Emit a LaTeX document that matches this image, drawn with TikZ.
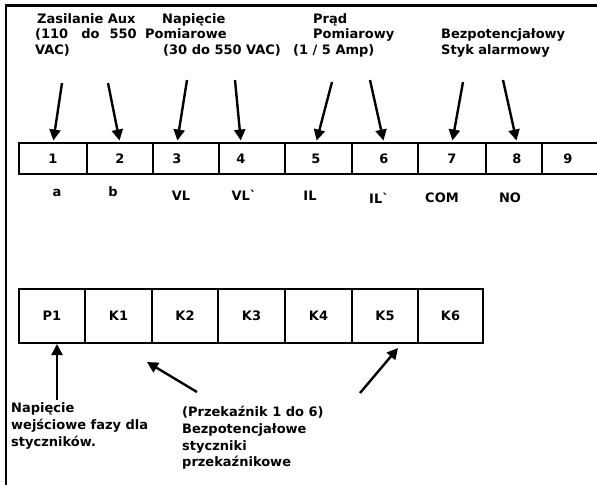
\documentclass[tikz,border=0pt]{standalone}
\usepackage{fontspec}
\setmainfont{DejaVu Sans}[Ligatures=TeXOff]
\usetikzlibrary{arrows.meta}

\begin{document}
\begin{tikzpicture}[x=1pt, y=-1pt, >={Triangle[width=11pt,length=11pt]},
    every node/.style={font=\bfseries\fontsize{13}{15.8}\selectfont},
    cell/.style={draw, line width=1.6pt, outer sep=0pt, inner sep=0pt, minimum height=31pt},
    relay/.style={cell, minimum height=54pt},
    txt/.style={anchor=north west, align=left, inner sep=0pt},
    note/.style={txt, font=\bfseries\fontsize{13}{16.7}\selectfont},
    pin/.style={->, line width=2.4pt, shorten >=2.5pt}]
  \useasboundingbox (0,0) rectangle (597,485);
  \draw[line width=2.4pt] (597,5.5) -- (6,5.5) -- (6,485);

  % headings over the terminals
  \node[txt] (aux) at (37,13.4) {Zasilanie Aux};
  \node[txt] (auxv) at (35,28.6) {(110\hspace{13pt}do\hspace{10pt}550\\VAC)};
  \node[txt] (nap) at (162,13.4) {Napięcie};
  \node[txt] (napp) at (145,28.6) {Pomiarowe};
  \node[txt] (napv) at (163,44.4) {(30 do 550 VAC)};
  \node[txt] (prad) at (313,13.4) {Prąd};
  \node[txt] (pradp) at (313,28.6) {Pomiarowy};
  \node[txt] (prada) at (293,44.4) {(1 / 5 Amp)};
  \node[txt] (styk) at (441,28.6) {Bezpotencjałowy\\Styk alarmowy};

  % terminal strip 1..9
  \foreach \i/\l/\r in {1/19/87, 2/87/153, 3/153/219, 4/219/285, 5/285/352, 6/352/418, 7/418/486, 8/486/542}
    \node[cell, minimum width=\r-\l] (c\i) at ({(\l+\r)/2},158.5) {};
  \node[cell, draw=none, minimum width=55] (c9) at (569.5,158.5) {};
  \draw[line width=1.6pt] (c9.north east) -- (c9.north west) -- (c9.south west) -- (c9.south east);
  \draw[line width=2.6pt] (c8.north west) -- (c8.south west);
  \foreach \i/\x in {1/53, 2/120, 3/177, 4/241, 5/316, 6/384, 7/452, 8/517, 9/568}
    \node (n\i) at (\x,159) {\i};
  \foreach \t/\x/\y [count=\k] in {a/57/196, b/113/196, VL/181/200.6, VL`/244/200.6,
      IL/310/200.6, IL`/379/203, COM/442/202, NO/510/202}
    \node[anchor=base] (lab\k) at (\x,\y) {\t};

  \foreach \i/\sx/\sy in {1/62/83, 2/108/83, 3/187/80, 4/235/80, 5/332/82, 6/370/80, 7/463/82, 8/503/80} {
    \coordinate (s\i) at (\sx,\sy);
    \draw[pin] (s\i) -- (n\i |- c1.north);
  }

  % contactor block
  \foreach \t/\l/\r in {P1/19/85, K1/85/152, K2/152/218, K3/218/285, K4/285/352, K5/352/418, K6/418/483}
    \node[relay, minimum width=\r-\l] (\t) at ({(\l+\r)/2},316) {\t};

  \node[note] (faza) at (11,402.7) {Napięcie\\wejściowe fazy dla\\styczników.};
  \node[note] (rel) at (182,406.1) {(Przekaźnik 1 do 6)\\Bezpotencjałowe\\styczniki\\przekaźnikowe};

  \coordinate (u0) at (57,400);
  \coordinate (k1s) at (197,392);
  \coordinate (k1e) at (147,362);
  \coordinate (k5s) at (360,393);
  \coordinate (k5e) at (398,348);
  \draw[pin, shorten >=1pt] (u0) -- (u0 |- P1.south);
  \draw[pin, shorten >=0pt] (k1s) -- (k1e);
  \draw[pin, shorten >=0pt] (k5s) -- (k5e);
\end{tikzpicture}
\end{document}
